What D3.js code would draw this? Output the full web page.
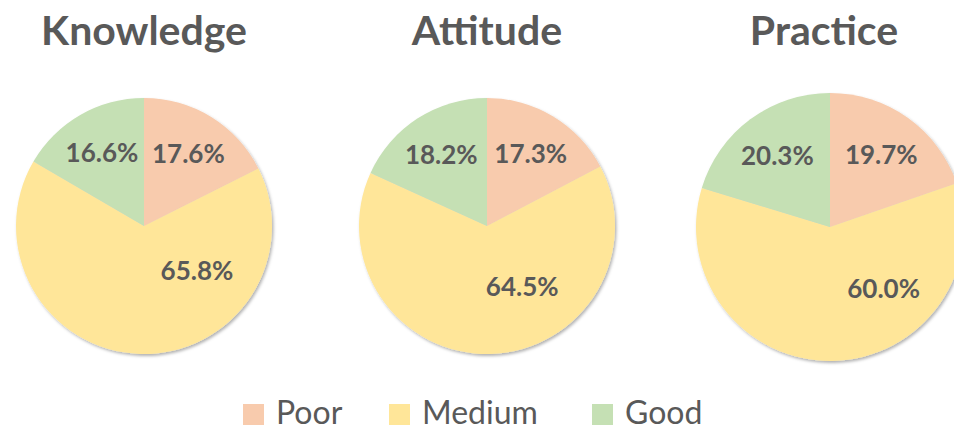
<!DOCTYPE html>
<html>
<head>
<meta charset="utf-8">
<script src="https://cdn.jsdelivr.net/npm/d3@7"></script>
<style>
  body { margin: 0; background: #fff; }
  svg { display: block; font-family: Lato, "Open Sans", sans-serif; }
</style>
</head>
<body>
<div class="chart"></div>
<script>
// data
const categories = ['Poor', 'Medium', 'Good']
const titles = ['Knowledge', 'Attitude', 'Practice']
const knowledge = [17.6, 65.8, 16.6]
const attitude = [17.3, 64.5, 18.2]
const practice = [19.7, 60.0, 20.3]

const colors = ['#F8CBAD', '#FFE699', '#C5E0B4']
const textColor = '#595959'

const width = 954
const height = 431

// pie layout (style only)
const pies = [
  {cx: 144, cy: 226, r: 128, values: knowledge, mid: {a: 130, f: 0.54}},
  {cx: 487, cy: 226, r: 128, values: attitude, mid: {a: 150, f: 0.55}},
  {cx: 830, cy: 227, r: 134, values: practice, mid: {a: 139, f: 0.61}}
]
const titleX = [144, 487, 824]

const svg = d3.select('.chart')
  .append('svg')
    .attr('width', width)
    .attr('height', height)

const defs = svg.append('defs')
defs.append('filter')
    .attr('id', 'shadow')
    .attr('x', '-20%').attr('y', '-20%')
    .attr('width', '140%').attr('height', '140%')
  .append('feDropShadow')
    .attr('dx', 1.5)
    .attr('dy', 2)
    .attr('stdDeviation', 1.8)
    .attr('flood-color', '#000')
    .attr('flood-opacity', 0.3)

const pie = d3.pie().sort(null).value(d => d)

pies.forEach((p, i) => {
  const g = svg.append('g')
    .attr('transform', `translate(${p.cx}, ${p.cy})`)

  const arc = d3.arc().innerRadius(0).outerRadius(p.r)
  const labelArc = d3.arc().innerRadius(p.r * 0.66).outerRadius(p.r * 0.66)
  const arcs = pie(p.values)

  g.append('g')
    .attr('filter', 'url(#shadow)')
    .selectAll('path')
    .data(arcs)
    .enter()
    .append('path')
      .attr('d', arc)
      .style('fill', (d, j) => colors[j])

  g.selectAll('.label')
    .data(arcs)
    .enter()
    .append('text')
      .attr('class', 'label')
      .attr('transform', (d, j) => {
        if (j === 1) {
          // excel "best fit" pushes the big slice's label off centroid
          const a = p.mid.a * Math.PI / 180
          const rr = p.r * p.mid.f
          return `translate(${rr * Math.sin(a)}, ${-rr * Math.cos(a)})`
        }
        return `translate(${labelArc.centroid(d)})`
      })
      .attr('dy', '0.36em')
      .attr('text-anchor', 'middle')
      .style('font-size', '26px')
      .style('font-weight', 'bold')
      .style('fill', textColor)
      .text(d => d.data.toFixed(1) + '%')

  svg.append('text')
    .attr('x', titleX[i])
    .attr('y', 45)
    .attr('text-anchor', 'middle')
    .style('font-size', '41px')
    .style('font-weight', 'bold')
    .style('fill', textColor)
    .text(titles[i])
})

// legend
const legendX = [243, 389, 592]
const legend = svg.selectAll('.legend')
  .data(categories)
  .enter()
  .append('g')
    .attr('class', 'legend')
    .attr('transform', (d, i) => `translate(${legendX[i]}, 404)`)

legend.append('rect')
  .attr('width', 21)
  .attr('height', 21)
  .style('fill', (d, i) => colors[i])

legend.append('text')
  .attr('x', 33)
  .attr('y', 20)
  .style('font-size', '32px')
  .style('fill', textColor)
  .text(d => d)
</script>
</body>
</html>
